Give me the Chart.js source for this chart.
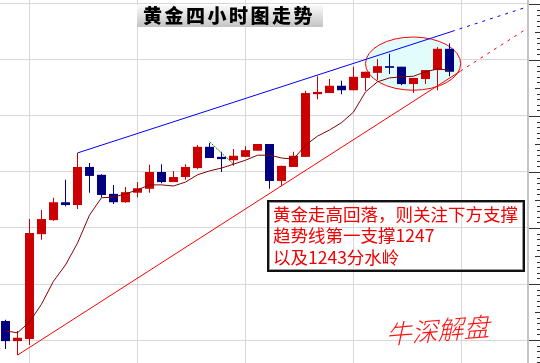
<!DOCTYPE html>
<html>
<head>
<meta charset="utf-8">
<title>黄金四小时图走势</title>
<script src="https://cdn.jsdelivr.net/npm/chart.js@4.4.0/dist/chart.umd.min.js"></script>
<style>
    html, body { margin: 0; padding: 0; background: #fff; }
    #goldChart { display: block; }
</style>
</head>
<body>
<canvas id="goldChart" width="540" height="363"></canvas>
<script>
// 4h candles
var opens  = [1203.4, 1199.8, 1200.2, 1218.9, 1221.4, 1224.6, 1224.1, 1230.9, 1229.5, 1226.1,
              1224.6, 1226.3, 1227.0, 1230.0, 1228.2, 1229.1, 1230.7, 1234.5, 1232.7, 1232.1,
              1232.7, 1233.8, 1235.0, 1228.4, 1230.9, 1232.7, 1243.9, 1244.1, 1245.4, 1244.6,
              1246.8, 1247.7, 1248.9, 1248.8, 1245.7, 1246.6, 1248.2, 1252.0];
var highs  = [1203.6, 1201.6, 1221.6, 1223.2, 1225.4, 1228.6, 1233.4, 1231.6, 1229.6, 1227.7,
              1227.3, 1228.2, 1231.3, 1231.4, 1230.2, 1231.4, 1234.8, 1235.2, 1233.6, 1234.1,
              1234.6, 1235.0, 1235.0, 1231.1, 1233.6, 1244.5, 1247.1, 1246.6, 1246.3, 1248.8,
              1247.9, 1250.2, 1251.1, 1248.8, 1246.8, 1248.2, 1252.3, 1253.0];
var lows   = [1198.4, 1197.3, 1199.1, 1217.9, 1221.3, 1223.9, 1223.4, 1226.3, 1225.5, 1224.3,
              1224.5, 1225.5, 1226.3, 1228.0, 1228.2, 1228.6, 1230.5, 1232.5, 1230.0, 1231.1,
              1232.7, 1233.8, 1227.0, 1227.5, 1230.9, 1232.7, 1243.0, 1244.1, 1243.9, 1244.6,
              1244.5, 1246.4, 1247.5, 1245.5, 1244.1, 1245.7, 1244.6, 1247.1];
var closes = [1199.8, 1200.4, 1219.1, 1221.6, 1224.6, 1224.1, 1230.9, 1229.3, 1225.9, 1224.6,
              1226.4, 1227.1, 1230.0, 1228.2, 1229.1, 1230.9, 1234.5, 1232.5, 1232.3, 1232.9,
              1233.9, 1235.0, 1228.4, 1231.1, 1232.9, 1244.1, 1244.3, 1245.4, 1244.6, 1247.0,
              1247.9, 1248.9, 1248.6, 1245.7, 1246.8, 1248.2, 1252.0, 1247.9];
var maLine = [1201.6, 1201.3, 1203.2, 1206.4, 1210.5, 1213.4, 1217.3, 1222.3, 1225.4, 1225.5,
              1226.1, 1226.8, 1227.7, 1227.7, 1227.5, 1228.2, 1229.5, 1230.2, 1230.7, 1231.4,
              1232.1, 1233.0, 1233.0, 1232.5, 1232.3, 1234.8, 1236.4, 1237.5, 1238.8, 1240.7,
              1244.3, 1246.1, 1246.8, 1247.0, 1247.1, 1247.9, 1248.4, 1248.2];

// trend lines: x = candle index, y = price (last leg is the projected, dotted part)
var upperTrendX = [6, 37.2, 43.5];
var upperTrendY = [1233.4, 1255.1, 1259.5];
var lowerTrendX = [1, 37.9, 43.3];
var lowerTrendY = [1197.3, 1248.0, 1255.4];
var greenX = [17, 19];
var greenY = [1235.4, 1231.4];

// highlighted zone (candle index / price)
var zoneX = [30.0, 37.93];
var zoneY = [1244.6, 1254.1];

var gridX = [2, 11, 20, 29, 38];
var gridY = [1200, 1210, 1220, 1230, 1240, 1250, 1260];

var title = '黄金四小时图走势';
var noteLines = ['黄金走高回落，则关注下方支撑', '趋势线第一支撑1247', '以及1243分水岭'];
var signature = '牛深解盘';

var upColor = '#cc0000';
var downColor = '#000080';

function toPoints(xs, ys) {
    return xs.map(function(x, i) { return { x: x, y: ys[i] }; });
}
var candleColors = opens.map(function(o, i) {
    return closes[i] >= o ? upColor : downColor;
});

// ellipse behind the candles
var zonePlugin = {
    id: 'zone',
    beforeDatasetsDraw: function(chart) {
        var ctx = chart.ctx, xs = chart.scales.x, ys = chart.scales.y;
        var x0 = xs.getPixelForValue(zoneX[0]), x1 = xs.getPixelForValue(zoneX[1]);
        var y0 = ys.getPixelForValue(zoneY[1]), y1 = ys.getPixelForValue(zoneY[0]);
        ctx.save();
        ctx.beginPath();
        ctx.ellipse((x0 + x1) / 2, (y0 + y1) / 2, (x1 - x0) / 2, (y1 - y0) / 2, 0, 0, Math.PI * 2);
        ctx.fillStyle = '#e2fcfc';
        ctx.fill();
        ctx.lineWidth = 1;
        ctx.strokeStyle = '#ff0000';
        ctx.stroke();
        ctx.restore();
    }
};

// right price axis with minor ticks, title, comment box, signature
var decorPlugin = {
    id: 'decor',
    afterDraw: function(chart) {
        var ctx = chart.ctx, ys = chart.scales.y, area = chart.chartArea;
        ctx.save();

        ctx.fillStyle = '#c4c4c4';
        ctx.fillRect(area.right - 1, 0, 2, chart.height);
        ctx.fillStyle = '#333';
        for (var p = Math.ceil(ys.min); p <= ys.max; p++) {
            var y = Math.round(ys.getPixelForValue(p));
            var len = p % 10 === 0 ? chart.width - area.right - 1 : (p % 5 === 0 ? 5 : 3);
            ctx.fillRect(chart.width - len, y, len, 1);
        }

        // title
        var g = ctx.createLinearGradient(0, 5, 0, 27);
        g.addColorStop(0, '#fafafa');
        g.addColorStop(1, '#c4c4c4');
        ctx.fillStyle = g;
        ctx.fillRect(137, 5, 186, 22);
        ctx.fillStyle = '#000';
        ctx.font = '900 19px "Noto Sans CJK SC"';
        ctx.textAlign = 'center';
        ctx.textBaseline = 'middle';
        for (var i = 0; i < title.length; i++) {
            ctx.fillText(title[i], 152.5 + i * 21.5, 16);
        }

        // comment box
        ctx.lineWidth = 2;
        ctx.strokeStyle = '#111';
        ctx.strokeRect(268, 201, 256, 70);
        ctx.lineWidth = 1;
        ctx.strokeStyle = '#999';
        ctx.strokeRect(269.5, 202.5, 253, 67);
        ctx.fillStyle = '#f00000';
        ctx.font = '17.5px "Noto Sans CJK SC"';
        ctx.textAlign = 'left';
        noteLines.forEach(function(line, k) {
            ctx.fillText(line, 273, 214 + k * 21.5);
        });

        // signature
        ctx.translate(440, 330);
        ctx.rotate(-0.08);
        ctx.transform(1, 0, -0.3, 1, 0, 0);
        ctx.fillStyle = '#ff1010';
        ctx.font = '300 26px "Noto Sans CJK SC"';
        ctx.textAlign = 'center';
        ctx.fillText(signature, 0, 0);
        ctx.restore();
    }
};

var ctx = document.getElementById('goldChart').getContext('2d');
var goldChart = new Chart(ctx, {
    type: 'bar',
    data: {
        datasets: [{
            type: 'line',
            data: toPoints(opens.map(function(o, i) { return i; }), maLine),
            borderColor: '#800000',
            borderWidth: 1,
            pointRadius: 0,
            tension: 0,
            order: 0
        }, {
            type: 'line',
            data: toPoints(upperTrendX, upperTrendY),
            borderColor: '#0000ff',
            borderWidth: 1,
            pointRadius: 0,
            segment: {
                borderDash: function(c) { return c.p0DataIndex >= 1 ? [3, 5] : undefined; }
            },
            order: 1
        }, {
            type: 'line',
            data: toPoints(lowerTrendX, lowerTrendY),
            borderColor: '#ff0000',
            borderWidth: 1,
            pointRadius: 0,
            segment: {
                borderDash: function(c) { return c.p0DataIndex >= 1 ? [3, 5] : undefined; }
            },
            order: 1
        }, {
            type: 'line',
            data: toPoints(greenX, greenY),
            borderColor: '#008000',
            borderWidth: 1,
            borderDash: [2, 1],
            pointRadius: 0,
            order: 1
        }, {
            // bodies
            data: opens.map(function(o, i) { return { x: i, y: [o, closes[i]] }; }),
            backgroundColor: candleColors,
            barThickness: 9,
            grouped: false,
            inflateAmount: 0,
            order: 2
        }, {
            // wicks
            data: lows.map(function(l, i) { return { x: i, y: [l, highs[i]] }; }),
            backgroundColor: candleColors,
            barThickness: 1,
            grouped: false,
            inflateAmount: 0,
            order: 3
        }]
    },
    options: {
        responsive: false,
        animation: false,
        events: [],
        layout: {
            padding: { left: 0, top: 0, bottom: 0, right: 12 }
        },
        scales: {
            x: {
                type: 'linear',
                offset: false,
                min: -0.4583,
                max: 43.5417,
                afterBuildTicks: function(s) { s.ticks = gridX.map(function(v) { return { value: v }; }); },
                ticks: { display: false },
                grid: { color: '#d8d8d8', drawTicks: false, offset: false },
                border: { display: false }
            },
            y: {
                type: 'linear',
                position: 'right',
                min: 1195.893,
                max: 1260.714,
                afterBuildTicks: function(s) { s.ticks = gridY.map(function(v) { return { value: v }; }); },
                ticks: { display: false },
                grid: { color: '#d8d8d8', drawTicks: false },
                border: { display: false }
            }
        },
        plugins: {
            legend: { display: false },
            tooltip: { enabled: false }
        }
    },
    plugins: [zonePlugin, decorPlugin]
});
</script>
</body>
</html>
